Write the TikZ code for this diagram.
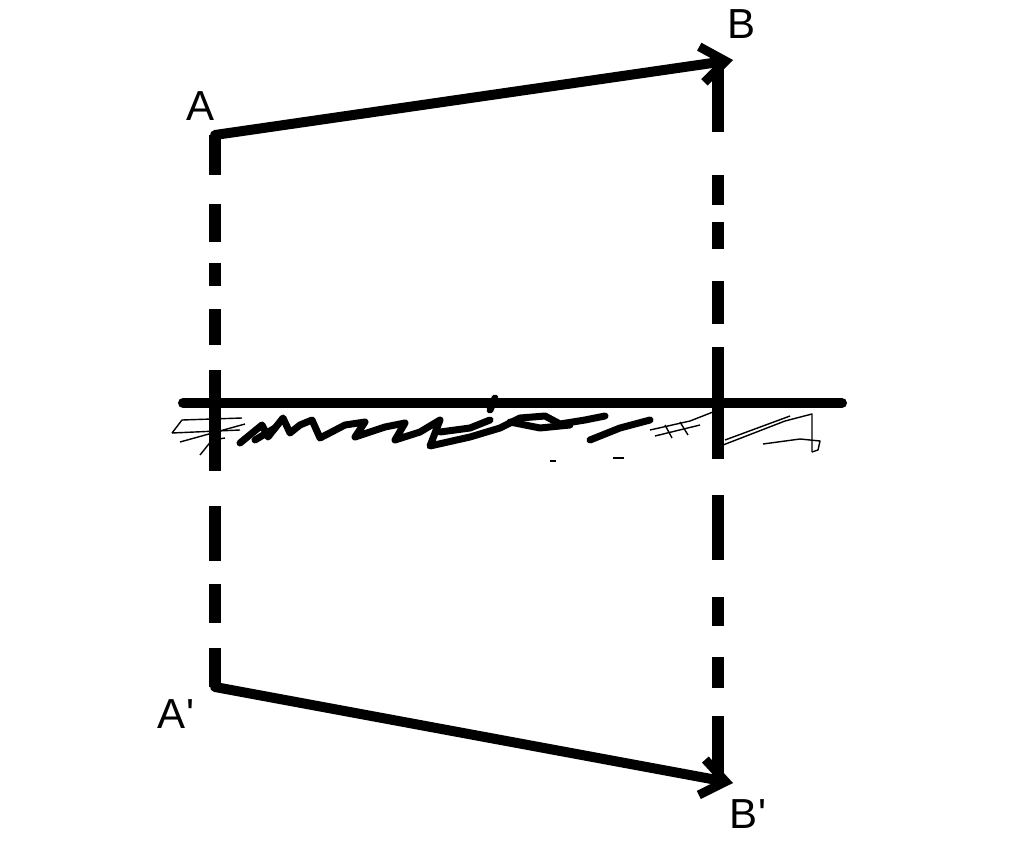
\documentclass[tikz,border=0pt]{standalone}
\usepackage{fontspec}
\setmainfont{Liberation Sans}
\usetikzlibrary{arrows.meta}
\begin{document}
\begin{tikzpicture}[x=1pt,y=-1pt,
  vecline/.style={line width=10pt,line cap=round,-{Straight Barb[length=24pt,width=36pt,line width=9pt]}},
  groundline/.style={line width=10pt,line cap=round},
  projleft/.style={line width=12pt,dash pattern=on 40pt off 29pt on 38pt off 21pt on 23pt off 23pt on 36pt off 25pt on 101pt off 35pt on 55pt off 23pt on 39pt off 25pt on 45pt off 10pt},
  projright/.style={line width=12pt,dash pattern=on 72pt off 43pt on 30pt off 17pt on 27pt off 32pt on 43pt off 23pt on 112pt off 36pt on 65pt off 37pt on 29pt off 31pt on 31pt off 28pt on 80pt off 10pt},
  hatchthick/.style={line width=7pt,line join=round,line cap=round},
  hatchthin/.style={line width=1.4pt,line join=round},
  lbl/.style={font=\fontsize{42}{46}\selectfont,inner sep=0pt}]
\useasboundingbox (0,0) rectangle (1024,861);
% points
\coordinate (A) at (215,135);
\coordinate (B) at (733,60);
\coordinate (Bv) at (718,60);
\coordinate (A2) at (215,687);
\coordinate (B2) at (733,783);
\coordinate (Bv2) at (718,783);
\coordinate (g1) at (183,403);
\coordinate (g2) at (842,403);
% projection lines
\draw[projleft] (A) -- (A2);
\draw[projright] (Bv) -- (Bv2);
% ground
\draw[groundline] (g1) -- (g2);
% hatching
\draw[hatchthick] (240,443) -- (262,425) -- (268,437) -- (283,418) -- (290,433) -- (300,425) -- (312,420) -- (320,438) -- (345,425) -- (365,422) -- (355,437) -- (385,427) -- (405,423) -- (395,440) -- (420,432) -- (440,420) -- (430,446) -- (470,437) -- (500,428) -- (520,418) -- (545,416) -- (560,424) -- (585,420) -- (605,416);
\draw[hatchthick] (490,410) -- (495,398);
\draw[hatchthick] (590,440) -- (620,428) -- (650,420);
\draw[hatchthick] (510,422) -- (540,428) -- (570,425);
\draw[hatchthick] (255,440) -- (275,428);
\draw[hatchthick] (440,432) -- (470,428) -- (490,420);
\draw[hatchthin] (172,433) -- (182,420) -- (242,418);
\draw[hatchthin] (172,433) -- (240,430);
\draw[hatchthin] (180,442) -- (245,424);
\draw[hatchthin] (200,455) -- (212,440) -- (225,438);
\draw[hatchthin] (650,430) -- (690,421) -- (713,412);
\draw[hatchthin] (655,436) -- (700,425);
\draw[hatchthin] (665,425) -- (672,438);
\draw[hatchthin] (680,422) -- (688,435);
\draw[hatchthin] (723,445) -- (785,421) -- (812,414) -- (812,452);
\draw[hatchthin] (725,440) -- (790,416);
\draw[hatchthin] (763,444) -- (800,439) -- (820,441) -- (818,450) -- (812,452);
\draw[line width=2.5pt] (550,461) -- (556,461);
\draw[line width=2.5pt] (613,458) -- (624,458);
% vectors
\draw[vecline] (A) -- (B);
\draw[vecline] (A2) -- (B2);
% labels
\node[lbl] (lA) at (201,106) {A};
\node[lbl] (lB) at (741,24) {B};
\node[lbl] (lA2) at (176,714) {A\textquotesingle};
\node[lbl] (lB2) at (748,814) {B\textquotesingle};
\end{tikzpicture}
\end{document}
